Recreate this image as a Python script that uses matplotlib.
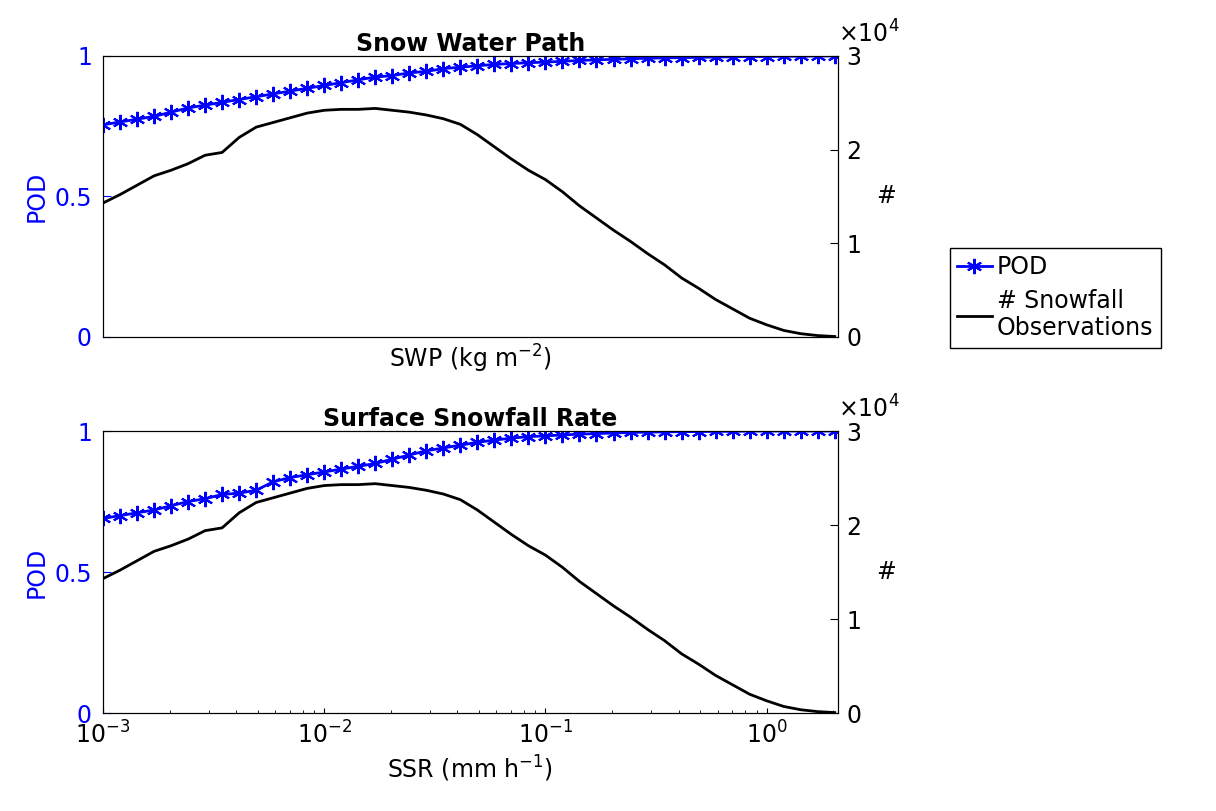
import numpy as np
import matplotlib.pyplot as plt

# sampling grid (13 points per decade from 1e-3)
x = 10 ** (-3 + np.arange(44) / 13)

pod_swp = [0.755, 0.765, 0.775, 0.785, 0.80, 0.815, 0.825, 0.835, 0.845, 0.855, 0.865,
           0.875, 0.885, 0.895, 0.905, 0.915, 0.925, 0.93, 0.94, 0.945, 0.955, 0.96,
           0.965, 0.97, 0.973, 0.976, 0.978, 0.981, 0.984, 0.986, 0.988, 0.99, 0.992,
           0.993, 0.994, 0.995, 0.996, 0.997, 0.998, 0.998, 0.999, 0.999, 1.0, 1.0]
pod_ssr = [0.69, 0.70, 0.71, 0.72, 0.735, 0.75, 0.76, 0.775, 0.78, 0.79, 0.82, 0.835,
           0.845, 0.855, 0.865, 0.875, 0.885, 0.90, 0.915, 0.93, 0.94, 0.95, 0.96,
           0.968, 0.975, 0.98, 0.983, 0.986, 0.989, 0.991, 0.993, 0.995, 0.996, 0.997,
           0.998, 0.998, 0.999, 0.999, 1.0, 1.0, 1.0, 1.0, 1.0, 1.0]
counts = [14300, 15200, 16200, 17200, 17800, 18500, 19400, 19700, 21300, 22400, 22900,
          23400, 23900, 24200, 24300, 24300, 24400, 24200, 24000, 23700, 23300, 22700,
          21600, 20300, 19000, 17800, 16800, 15500, 14000, 12700, 11400, 10200, 8900,
          7700, 6300, 5200, 4000, 3000, 2000, 1300, 700, 350, 150, 50]

plt.rcParams['font.family'] = 'DejaVu Sans'
plt.rcParams['font.size'] = 17
plt.rcParams['mathtext.default'] = 'regular'

fig = plt.figure(figsize=(12.16, 8.11), dpi=100)
panels = [
    ([0.0847, 0.5845, 0.6044, 0.3465], pod_swp, 'Snow Water Path', 'SWP (kg m$^{-2}$)', False),
    ([0.0847, 0.1208, 0.6044, 0.3477], pod_ssr, 'Surface Snowfall Rate', 'SSR (mm h$^{-1}$)', True),
]
for rect, pod, title, xlabel, show_x in panels:
    ax = fig.add_axes(rect)
    ax2 = ax.twinx()
    l1, = ax.plot(x, pod, color='blue', marker=(6, 2, 0), markersize=11, mew=1.5, lw=2, label='POD')
    l2, = ax2.plot(x, counts, color='black', lw=2, label='# Snowfall\nObservations')
    ax.set_xscale('log')
    ax.set_xlim(1e-3, 2.1)
    ax.set_ylim(0, 1)
    ax.set_yticks([0, 0.5, 1])
    ax.set_yticklabels(['0', '0.5', '1'])
    ax2.set_ylim(0, 30000)
    ax2.set_yticks([0, 10000, 20000, 30000])
    ax2.set_yticklabels(['0', '1', '2', '3'])
    ax2.text(1.0, 1.03, r'$\times10^4$', transform=ax.transAxes, fontsize=17,
             ha='left', va='bottom', math_fontfamily='dejavusans')
    ax.tick_params(axis='y', colors='blue', direction='in', length=6, pad=8)
    ax.tick_params(axis='x', direction='in', which='both', pad=6)
    ax2.tick_params(axis='y', colors='black', direction='in', length=6, pad=6)
    ax.set_ylabel('POD', color='blue', labelpad=4)
    ax2.set_ylabel('#', rotation=0, labelpad=18, va='center')
    ax.set_xlabel(xlabel, labelpad=4)
    ax.set_title(title, fontweight='bold', fontsize=17, pad=2)
    if not show_x:
        ax.tick_params(axis='x', which='both', labelbottom=False, length=0)
    ax.set_zorder(ax2.get_zorder() + 1)
    ax.patch.set_visible(False)

fig.legend([l1, l2], ['POD', '# Snowfall\nObservations'], loc='upper left',
           bbox_to_anchor=(0.781, 0.694), fancybox=False, edgecolor='black',
           framealpha=1, handlelength=1.5, handletextpad=0.2, borderpad=0.3,
           borderaxespad=0, labelspacing=0.4)
fig.savefig('out.png')
